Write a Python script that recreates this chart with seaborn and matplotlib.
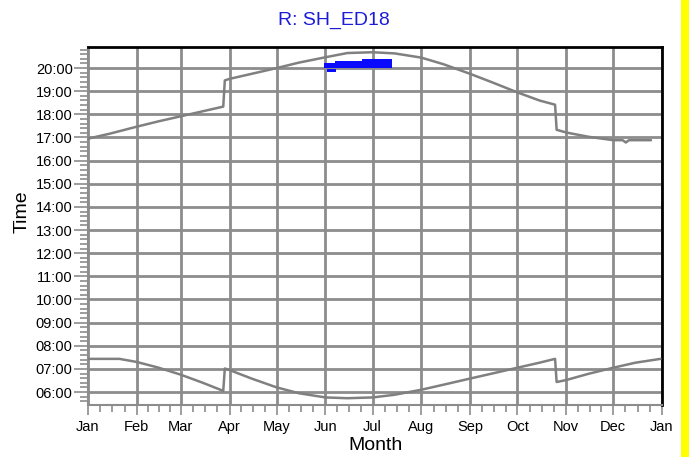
import matplotlib
matplotlib.use("Agg")
import matplotlib.pyplot as plt
import matplotlib.ticker as mticker
from matplotlib.patches import Rectangle
import seaborn as sns
import pandas as pd

# ---------------- data ----------------
month_labels = ["Jan", "Feb", "Mar", "Apr", "May", "Jun", "Jul",
                "Aug", "Sep", "Oct", "Nov", "Dec", "Jan"]
month_start_day = [0, 31, 59, 90, 120, 151, 181, 212, 243, 273, 304, 334, 365]

sunset_day = [0, 14, 31, 45, 59, 73, 86, 87, 90, 104, 120, 134, 151, 165, 181,
              195, 212, 226, 243, 257, 273, 287, 297, 298, 304, 318, 334, 340,
              342, 344, 358]
sunset_time = ["16:57", "17:10", "17:28", "17:42", "17:55", "18:08", "18:20",
               "19:28", "19:32", "19:45", "20:00", "20:14", "20:28", "20:39",
               "20:41", "20:38", "20:27", "20:10", "19:45", "19:23", "18:57",
               "18:36", "18:25", "17:20", "17:13", "17:02", "16:53", "16:53",
               "16:47", "16:53", "16:53"]

sunrise_day = [0, 20, 31, 45, 59, 73, 86, 87, 90, 104, 120, 134, 151, 165, 181,
               195, 212, 226, 243, 257, 273, 287, 297, 298, 304, 318, 334, 348,
               364]
sunrise_time = ["07:26", "07:26", "07:18", "07:03", "06:45", "06:24", "06:03",
                "07:01", "06:57", "06:35", "06:12", "05:57", "05:46", "05:44",
                "05:46", "05:53", "06:06", "06:19", "06:35", "06:48", "07:03",
                "07:16", "07:26", "06:26", "06:31", "06:47", "07:03", "07:16",
                "07:26"]

# observation blocks (blue)
obs_start_day = [150, 157, 174, 152]
obs_end_day = [157, 174, 193, 158]
obs_start_time = ["19:59", "19:59", "19:59", "19:50"]
obs_end_time = ["20:14", "20:19", "20:23", "19:57"]

title_text = "R: SH_ED18"


def to_hours(s):
    h, m = s.split(":")
    return int(h) + int(m) / 60.0


sunset = pd.DataFrame({"day": sunset_day, "hours": [to_hours(t) for t in sunset_time]})
sunrise = pd.DataFrame({"day": sunrise_day, "hours": [to_hours(t) for t in sunrise_time]})

# ---------------- figure ----------------
sns.set_theme(style="white")
plt.rcParams["font.family"] = ["Liberation Sans", "DejaVu Sans"]

W, H = 689, 457
fig = plt.figure(figsize=(W / 100, H / 100), dpi=100)
fig.patch.set_facecolor("white")
ax = fig.add_axes([88 / W, (H - 405) / H, (662 - 88) / W, (405 - 47) / H])
ax.set_facecolor("white")

grid_col = "#8c8c8c"
line_col = "#808080"

sns.lineplot(data=sunset, x="day", y="hours", ax=ax, color=line_col,
             linewidth=1.8, estimator=None, sort=False, zorder=3)
sns.lineplot(data=sunrise, x="day", y="hours", ax=ax, color=line_col,
             linewidth=1.8, estimator=None, sort=False, zorder=3)

for s, e, lo, hi in zip(obs_start_day, obs_end_day, obs_start_time, obs_end_time):
    lo_h, hi_h = to_hours(lo), to_hours(hi)
    ax.bar(s, hi_h - lo_h, width=e - s, bottom=lo_h, align="edge",
           color="#0a0aff", edgecolor="none", zorder=4)

ax.set_xlim(0, 365)
ax.set_ylim(5.44, 20.91)

# x ticks: months, minor quarter-months
ax.set_xticks(month_start_day)
ax.set_xticklabels(month_labels)
minor_x = []
for a, b in zip(month_start_day[:-1], month_start_day[1:]):
    for k in (1, 2, 3):
        minor_x.append(a + (b - a) * k / 4)
ax.set_xticks(minor_x, minor=True)

# y ticks: hours, minor every 12 minutes
ax.yaxis.set_major_locator(mticker.FixedLocator(list(range(6, 21))))
ax.yaxis.set_major_formatter(mticker.FuncFormatter(lambda v, p: "%02d:00" % int(round(v))))
ax.yaxis.set_minor_locator(mticker.MultipleLocator(0.2))

ax.grid(True, which="major", color=grid_col, linewidth=2.0, zorder=1)
ax.set_axisbelow(True)

ax.tick_params(axis="x", which="major", length=7, width=1.2, color=grid_col,
               labelsize=10.5, labelcolor="black", pad=4, direction="out", bottom=True)
ax.tick_params(axis="x", which="minor", length=5, width=1.2, color=grid_col,
               direction="out", bottom=True)
ax.tick_params(axis="y", which="major", length=10, width=1.2, color=grid_col,
               labelsize=10.5, labelcolor="black", pad=1, direction="out", left=True)
ax.tick_params(axis="y", which="minor", length=6, width=1.2, color=grid_col,
               direction="out", left=True)

for side in ("left", "bottom"):
    ax.spines[side].set_color(grid_col)
    ax.spines[side].set_linewidth(1.5)
for side in ("top", "right"):
    ax.spines[side].set_color("black")
    ax.spines[side].set_linewidth(2.0)

ax.set_xlabel("Month", fontsize=14, color="black")
ax.set_ylabel("Time", fontsize=14, color="black")
ax.xaxis.label.set_va("center")
ax.yaxis.label.set_va("center")
ax.xaxis.set_label_coords(0.5, (405 - 445) / 358)
ax.yaxis.set_label_coords((22 - 88) / 574, (405 - 212) / 358)

fig.text(334 / W, 1 - 20 / H, title_text, ha="center", va="center",
         fontsize=14, color="#1c1cd8")

# yellow strip at the right edge
fig.patches.append(Rectangle((681 / W, 0), (689 - 681) / W, 1,
                             transform=fig.transFigure, facecolor="#ffff00",
                             edgecolor="none", zorder=0))

fig.savefig("out.png", dpi=100)
